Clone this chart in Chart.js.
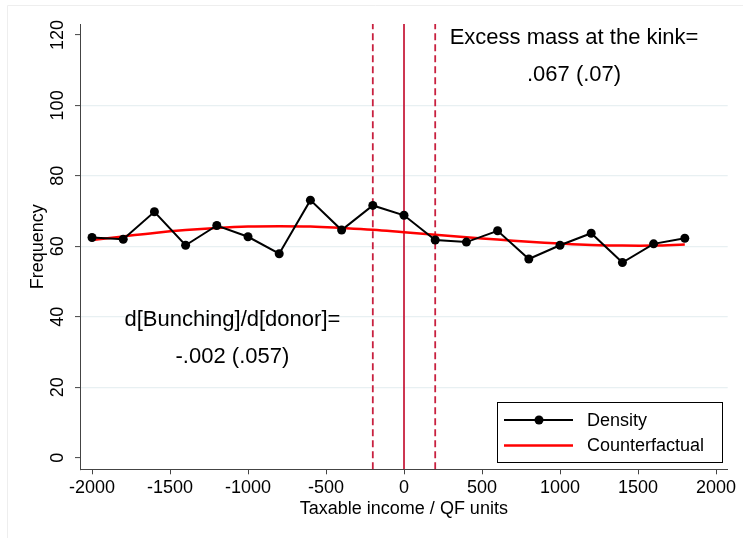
<!DOCTYPE html>
<html>
<head>
<meta charset="utf-8">
<script src="https://cdn.jsdelivr.net/npm/chart.js@4.4.1/dist/chart.umd.min.js"></script>
<style>
  html, body { margin: 0; padding: 0; background: #fff; }
  #wrap { width: 743px; height: 538px; }
</style>
</head>
<body>
<div id="wrap"><canvas id="chart" width="743" height="538"></canvas></div>
<script>
// Bin midpoints, distance to the kink in QF units
const bins = [-2000, -1800, -1600, -1400, -1200, -1000, -800, -600, -400, -200,
              0, 200, 400, 600, 800, 1000, 1200, 1400, 1600, 1800];
// Observed frequency per bin
const density = [62.5, 62.0, 69.8, 60.3, 65.9, 62.7, 57.9, 73.1, 64.6, 71.6,
                 68.8, 61.8, 61.2, 64.4, 56.4, 60.3, 63.7, 55.4, 60.7, 62.3];
// Fitted counterfactual (polynomial)
const counterfactual = [61.8, 62.8, 63.8, 64.6, 65.2, 65.6, 65.7, 65.6, 65.2, 64.7,
                        64.0, 63.3, 62.6, 61.9, 61.3, 60.8, 60.4, 60.2, 60.2, 60.5];
const xTicks = [-2000, -1500, -1000, -500, 0, 500, 1000, 1500, 2000];
const yTicks = [0, 20, 40, 60, 80, 100, 120];
const kinkLines = [-200, 0, 200];
const xRange = [-2077, 2075];
const yRange = [-3.3, 123.1];

// Text notes, placed in data units (baselines)
const notes = [
  { x: 1090, y: [117.4, 106.9], lines: ['Excess mass at the kink=', '.067 (.07)'] },
  { x: -1100, y: [37.4, 27.0], lines: ['d[Bunching]/d[donor]=', '-.002 (.057)'] }
];

const FONT = '"Liberation Sans", Arial, Helvetica, sans-serif';
const KINK_COLOR = '#c8203f';
Chart.defaults.font.family = FONT;
Chart.defaults.color = '#000';

const toPoints = (xs, ys) => xs.map((x, i) => ({ x, y: ys[i] }));

const datasets = [
  {
    label: 'Density',
    data: toPoints(bins, density),
    borderColor: '#000',
    backgroundColor: '#000',
    borderWidth: 2,
    pointRadius: 4.5,
    pointBackgroundColor: '#000',
    pointBorderWidth: 0,
    tension: 0,
    inLegend: true
  },
  {
    label: 'Counterfactual',
    data: toPoints(bins, counterfactual),
    borderColor: '#ff0000',
    borderWidth: 2.5,
    pointRadius: 0,
    tension: 0.4,
    inLegend: true
  }
];

kinkLines.forEach(k => {
  datasets.push({
    label: 'kink ' + k,
    data: [{ x: k, y: yRange[0] }, { x: k, y: yRange[1] }],
    borderColor: KINK_COLOR,
    borderWidth: 1.8,
    borderDash: k === 0 ? [] : [7, 4],
    pointRadius: 0
  });
});

// Notes, in-plot legend and the faint outer frame
const overlay = {
  id: 'overlay',
  beforeDraw(chart) {
    const ctx = chart.ctx;
    ctx.save();
    ctx.strokeStyle = '#eeeeee';
    ctx.lineWidth = 1;
    ctx.beginPath();
    ctx.moveTo(7.5, chart.height);
    ctx.lineTo(7.5, 5.5);
    ctx.lineTo(chart.width, 5.5);
    ctx.stroke();
    ctx.restore();
  },
  afterDraw(chart) {
    const { ctx, chartArea: a, scales: { x, y } } = chart;
    ctx.save();
    ctx.fillStyle = '#000';
    ctx.textAlign = 'center';
    ctx.textBaseline = 'alphabetic';
    ctx.font = '22px ' + FONT;
    notes.forEach(n => {
      n.lines.forEach((t, i) => ctx.fillText(t, x.getPixelForValue(n.x), y.getPixelForValue(n.y[i])));
    });

    // legend box
    const w = 225, h = 60;
    const bx = Math.round(a.right - 6 - w), by = Math.round(a.bottom - 7 - h);
    ctx.fillStyle = '#fff';
    ctx.fillRect(bx, by, w, h);
    ctx.strokeStyle = '#000';
    ctx.lineWidth = 1;
    ctx.strokeRect(bx + 0.5, by + 0.5, w, h);
    ctx.font = '18px ' + FONT;
    ctx.textAlign = 'left';
    ctx.textBaseline = 'middle';
    chart.data.datasets.filter(d => d.inLegend).forEach((d, i) => {
      const ly = by + 18 + i * 25.5;
      ctx.strokeStyle = d.borderColor;
      ctx.lineWidth = d.borderWidth;
      ctx.beginPath();
      ctx.moveTo(bx + 7, ly);
      ctx.lineTo(bx + 76, ly);
      ctx.stroke();
      if (d.pointRadius > 0) {
        ctx.fillStyle = d.pointBackgroundColor;
        ctx.beginPath();
        ctx.arc(bx + 42, ly, d.pointRadius, 0, Math.PI * 2);
        ctx.fill();
      }
      ctx.fillStyle = '#000';
      ctx.fillText(d.label, bx + 90, ly + 1);
    });
    ctx.restore();
  }
};

new Chart(document.getElementById('chart'), {
  type: 'line',
  data: { datasets },
  plugins: [overlay],
  options: {
    responsive: false,
    animation: false,
    events: [],
    layout: { padding: { top: 24, right: 15.3, left: 0, bottom: 0 } },
    plugins: {
      legend: { display: false },
      tooltip: { enabled: false }
    },
    scales: {
      x: {
        type: 'linear',
        min: xRange[0],
        max: xRange[1],
        afterBuildTicks: s => { s.ticks = xTicks.map(v => ({ value: v })); },
        afterFit: s => { s.height = 68.7; s.paddingLeft = 0; s.paddingRight = 0; },
        grid: { drawOnChartArea: false, tickLength: 5, tickColor: '#444', tickWidth: 1 },
        border: { color: '#444', width: 1 },
        ticks: {
          font: { size: 18 },
          padding: 3,
          maxRotation: 0,
          autoSkip: false,
          callback: v => String(v)
        },
        title: {
          display: true,
          text: 'Taxable income / QF units',
          font: { size: 18 },
          padding: { top: 0, bottom: 18 }
        }
      },
      y: {
        type: 'linear',
        min: yRange[0],
        max: yRange[1],
        afterBuildTicks: s => { s.ticks = yTicks.map(v => ({ value: v })); },
        afterFit: s => { s.width = 80; s.paddingTop = 0; s.paddingBottom = 0; },
        grid: {
          color: c => (c.tick && (c.tick.value === 0 || c.tick.value === 120)) ? 'rgba(0,0,0,0)' : '#e8f0f2',
          lineWidth: 1.2,
          tickLength: 5,
          tickColor: '#444',
          tickWidth: 1
        },
        border: { color: '#444', width: 1 },
        ticks: {
          font: { size: 18 },
          minRotation: 90,
          maxRotation: 90,
          crossAlign: 'center',
          padding: 2,
          autoSkip: false,
          callback: v => String(v)
        },
        title: {
          display: true,
          text: 'Frequency',
          font: { size: 18 },
          padding: { top: 27, bottom: 0 }
        }
      }
    }
  }
});
</script>
</body>
</html>
